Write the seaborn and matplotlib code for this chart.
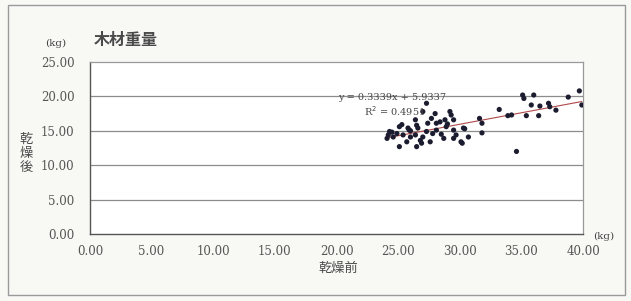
import numpy as np
import pandas as pd
import matplotlib.pyplot as plt
import seaborn as sns

# weight before drying (x) and after drying (y), kg
before = [24.1, 24.2, 24.3, 24.6, 24.9, 25.1, 25.1, 25.4, 25.7, 25.8, 26.0, 26.4,
          26.4, 26.5, 26.5, 26.6, 26.9, 27.0, 27.0, 27.3, 27.3, 27.4, 27.6, 27.7,
          28.0, 28.1, 28.1, 28.7, 28.8, 28.9, 29.2, 29.3, 29.5, 29.5, 29.5, 29.7,
          30.1, 30.2, 30.3, 30.4, 30.7, 31.6, 31.8, 31.8, 33.2, 33.9, 34.2, 34.6,
          35.1, 35.2, 35.4, 35.8, 36.0, 36.4, 36.5, 37.2, 37.3, 37.8, 38.8, 39.7,
          39.9, 26.0, 25.3, 27.8, 28.4, 24.5, 25.9, 26.8, 28.5, 29.0]
after = [13.9, 14.4, 14.9, 14.1, 14.6, 15.6, 12.7, 14.4, 13.4, 15.4, 14.1, 16.6,
         14.4, 12.7, 15.8, 15.4, 13.2, 17.8, 14.1, 19.0, 14.9, 16.1, 13.4, 16.8,
         17.5, 16.1, 15.1, 13.9, 16.6, 15.6, 17.8, 17.3, 16.6, 15.1, 13.9, 14.4,
         13.4, 13.2, 15.4, 15.3, 14.1, 16.8, 16.1, 14.7, 18.1, 17.2, 17.3, 12.0,
         20.2, 19.7, 17.2, 18.75, 20.2, 17.2, 18.6, 19.0, 18.5, 18.0, 19.9, 20.8,
         18.75, 15.0, 15.9, 14.6, 16.3, 14.8, 15.1, 13.6, 14.5, 16.0]

slope, intercept = 0.3339, 5.9337
r2 = 0.4951

x_ticks = [0, 5, 10, 15, 20, 25, 30, 35, 40]
y_ticks = [0, 5, 10, 15, 20, 25]

df = pd.DataFrame({'before': before, 'after': after})

sns.set_style('white')
plt.rcParams['font.family'] = ['DejaVu Serif', 'Noto Sans CJK JP', 'DejaVu Sans']

fig = plt.figure(figsize=(6.31, 3.01), dpi=100)
fig.patch.set_facecolor('#f8f8f5')
ax = fig.add_axes([0.1426, 0.2226, 0.7814, 0.5714])
ax.set_facecolor('white')

# outer chart border
fig.add_artist(plt.Rectangle((0.012, 0.02), 0.978, 0.965, transform=fig.transFigure,
                             fill=False, edgecolor='#9a9a9a', linewidth=1.0))

# grid lines
for v in y_ticks[1:-1]:
    ax.axhline(v, color='#8c8c8c', linewidth=0.9, zorder=0)

sns.scatterplot(data=df, x='before', y='after', ax=ax, color='#1c1c30',
                s=14, edgecolor='none', marker='o', zorder=3)

# trendline over the range of the data
xs = np.array([min(before), max(before)])
ax.plot(xs, slope * xs + intercept, color='#b04848', linewidth=0.8, zorder=2)

ax.text(24.5, 19.9, f'y = {slope}x + {intercept}', fontsize=7, color='#444444',
        ha='center', va='center')
ax.text(24.7, 17.9, f'R$^2$ = {r2}', fontsize=7, color='#444444',
        ha='center', va='center')

ax.set_xlim(0, 40)
ax.set_ylim(0, 25)
ax.set_xticks(x_ticks)
ax.set_yticks(y_ticks)
ax.set_xticklabels([f'{v:.2f}' for v in x_ticks], fontsize=8.5, color='#555555')
ax.set_yticklabels([f'{v:.2f}' for v in y_ticks], fontsize=8.5, color='#555555')
ax.tick_params(axis='x', direction='in', length=3, width=0.8, color='#555555', pad=8)
ax.tick_params(axis='y', length=0, pad=11)

for side in ['left', 'bottom']:
    ax.spines[side].set_color('#555555')
    ax.spines[side].set_linewidth(1.0)
for side in ['top', 'right']:
    ax.spines[side].set_color('#999999')
    ax.spines[side].set_linewidth(0.9)

ax.set_xlabel('')
ax.set_ylabel('')

# titles and unit labels
fig.text(0.148, 0.868, '木材重量', fontsize=11.5, fontweight='bold', color='#4a4a4a',
         family=['Noto Sans CJK JP'], va='center')
fig.text(0.089, 0.857, '(kg)', fontsize=7.5, color='#444444', ha='center', va='center')
fig.text(0.957, 0.213, '(kg)', fontsize=7.5, color='#444444', ha='center', va='center')
fig.text(0.536, 0.11, '乾燥前', fontsize=9.5, color='#4a4a4a', ha='center', va='center',
         family=['Noto Sans CJK JP'])
fig.text(0.041, 0.49, '乾\n燥\n後', fontsize=9.5, color='#4a4a4a', ha='center', va='center',
         linespacing=1.1, family=['Noto Sans CJK JP'])

plt.savefig('out.png', dpi=100, facecolor=fig.get_facecolor())
